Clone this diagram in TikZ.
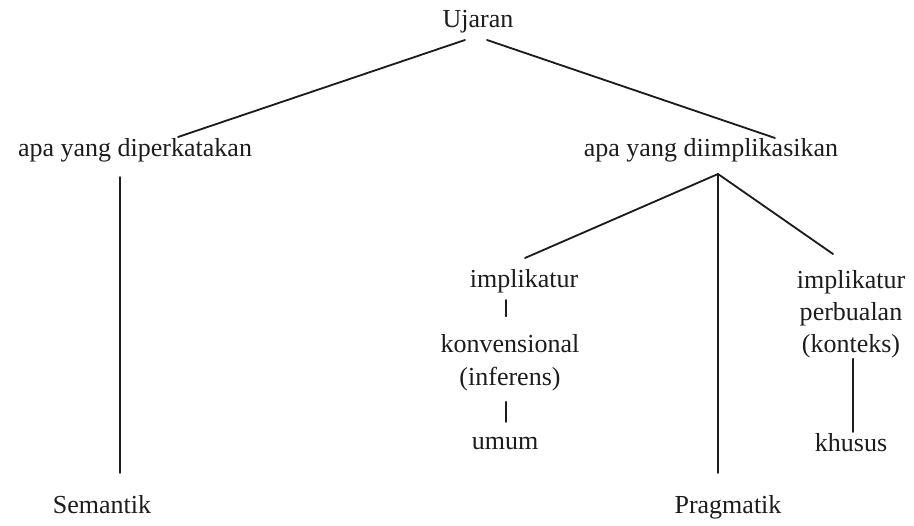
\documentclass[tikz,border=0pt]{standalone}
\usepackage{fontspec}
\setmainfont{Liberation Serif}
\usepackage{xcolor}
\usepackage{tikz}
\usetikzlibrary{calc}
\definecolor{Ink}{HTML}{1C1C1C}

\begin{document}
\begin{tikzpicture}[x=.25mm,y=.25mm]
  \path[use as bounding box] (0,0) rectangle (914,525);

  \tikzset{
    ujTerm/.style={
      inner sep=0pt,
      anchor=base,
      align=center,
      font=\fontsize{18.5}{23}\selectfont,
      text=Ink
    },
    ujBranch/.style={
      draw=Ink,
      line width=1.3pt,
      line cap=round
    },
    ujStem/.style={
      draw=Ink,
      line width=1.1pt,
      line cap=round
    }
  }

  \node[ujTerm] (ujaran) at (478,497) {Ujaran};
  \node[ujTerm] (said) at (135,368) {apa yang diperkatakan};
  \node[ujTerm] (implied) at (711,368) {apa yang diimplikasikan};
  \node[ujTerm] (implKonv) at (524,237) {implikatur};
  \node[ujTerm] (konv) at (510,140) {konvensional\\(inferens)};
  \node[ujTerm] (umum) at (505,76) {umum};
  \node[ujTerm] (implPerb) at (851,172) {implikatur\\perbualan\\(konteks)};
  \node[ujTerm] (khusus) at (851,74) {khusus};
  \node[ujTerm] (semantik) at (102,12) {Semantik};
  \node[ujTerm] (pragmatik) at (728,12) {Pragmatik};

  % cabang utama
  \draw[ujBranch] ($(ujaran.base)+(-13,-12)$) -- ($(said.base)+(43,20)$);
  \draw[ujBranch] ($(ujaran.base)+(9,-12)$) -- ($(implied.base)+(64,19)$);
  \draw[ujStem] ($(said.base)+(-15,-20)$) -- ($(semantik.base)+(18,40)$);

  % tiga cabang dari apa yang diimplikasikan
  \coordinate (implApex) at ($(implied.base)+(7,-17)$);
  \draw[ujBranch] (implApex) -- ($(implKonv.base)+(1,30)$);
  \draw[ujStem] (implApex) -- ($(pragmatik.base)+(-10,40)$);
  \draw[ujBranch] (implApex) -- ($(implPerb.north)+(-18,16)$);

  \draw[ujStem] ($(implKonv.base)+(-18,-12)$) -- ($(konv.north)+(-4,18)$);
  \draw[ujStem] ($(konv.south)+(-4,-11)$) -- ($(umum.base)+(1,27)$);
  \draw[ujStem] ($(implPerb.south)+(2,0)$) -- ($(khusus.base)+(2,19)$);
\end{tikzpicture}
\end{document}
